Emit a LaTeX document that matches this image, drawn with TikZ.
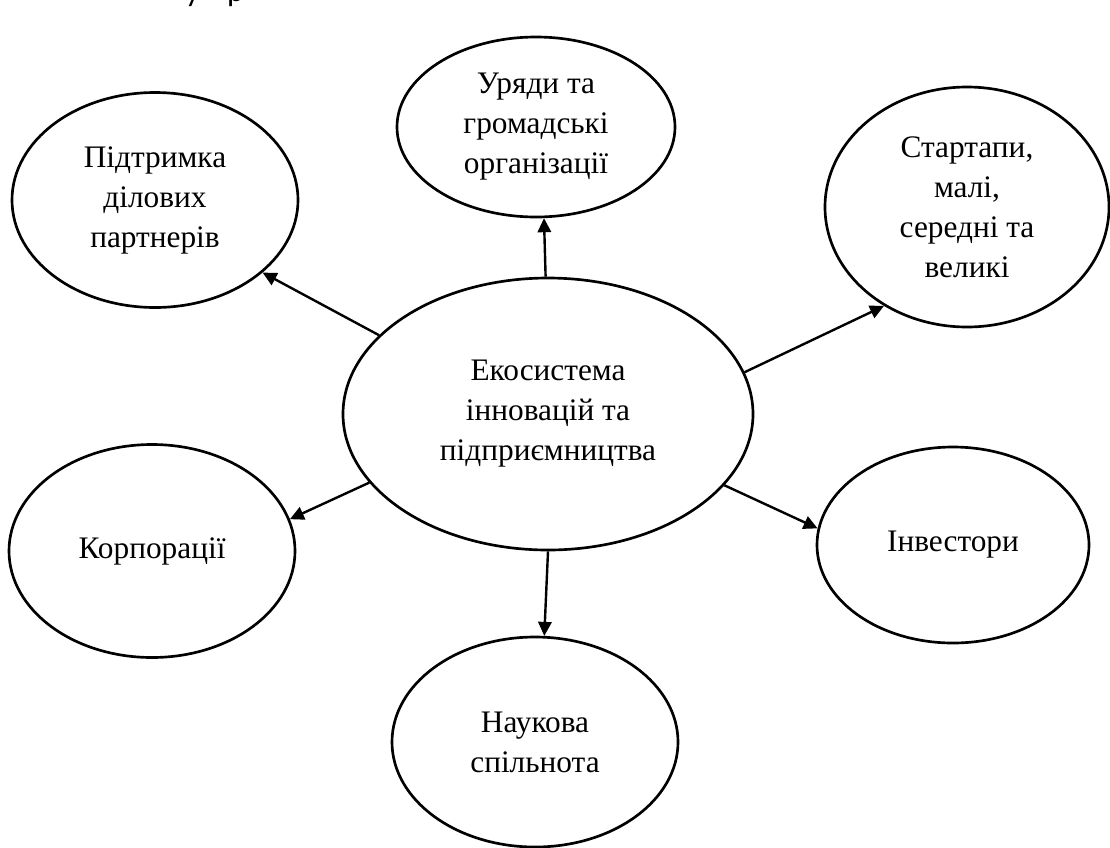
\documentclass[tikz,border=0pt]{standalone}
\usepackage{fontspec}
\setmainfont{Liberation Serif}
\newfontfamily\fragfont{Carlito}
\usetikzlibrary{shapes.geometric,arrows.meta}

\begin{document}
\begin{tikzpicture}[x=0.75pt,y=-0.75pt,
        part/.style={ellipse, draw, line width=2pt, inner sep=0pt, align=center,
            font=\fontsize{23.5}{30}\selectfont},
        link/.style={line width=1.8pt, -{Triangle[length=10.5pt,width=10pt]}}]
    \useasboundingbox (0,0) rectangle (1110,847);
    % cut-off line of text above the figure
    \node[anchor=base west, inner sep=0pt, font=\fragfont\fontsize{24}{28}\selectfont] (frag) at (185,1) {у\hspace{20.5pt}р};
    \node[part, minimum width=307.5pt, minimum height=204pt] (eco) at (548,414) {Екосистема\\інновацій та\\підприємництва};
    \node[part, minimum width=208.5pt, minimum height=135pt] (gov) at (536,127) {Уряди та\\громадські\\організації};
    \node[part, minimum width=214.5pt, minimum height=161.25pt] (partners) at (155,200) {Підтримка\\ділових\\партнерів};
    \node[part, minimum width=213pt, minimum height=180pt] (startups) at (967,207) {Стартапи,\\малі,\\середні та\\великі};
    \node[part, minimum width=214.5pt, minimum height=159.75pt] (corp) at (152,551) {Корпорації};
    \node[part, minimum width=204pt, minimum height=147pt] (investors) at (953,545) {Інвестори};
    \node[part, minimum width=214.5pt, minimum height=157.5pt] (science) at (535,742) {Наукова\\спільнота};
    \draw[link] (eco.155.1) -- (partners.326.9);
    \draw[link] (eco.91.3) -- (gov.275.7);
    \draw[link] (eco.12.7) -- (startups.230.1);
    \draw[link] (eco.201.4) -- (corp.13.4);
    \draw[link] (eco.338.5) -- (investors.173.6);
    \draw[link] (eco.270) -- (science.85.7);
\end{tikzpicture}
\end{document}
